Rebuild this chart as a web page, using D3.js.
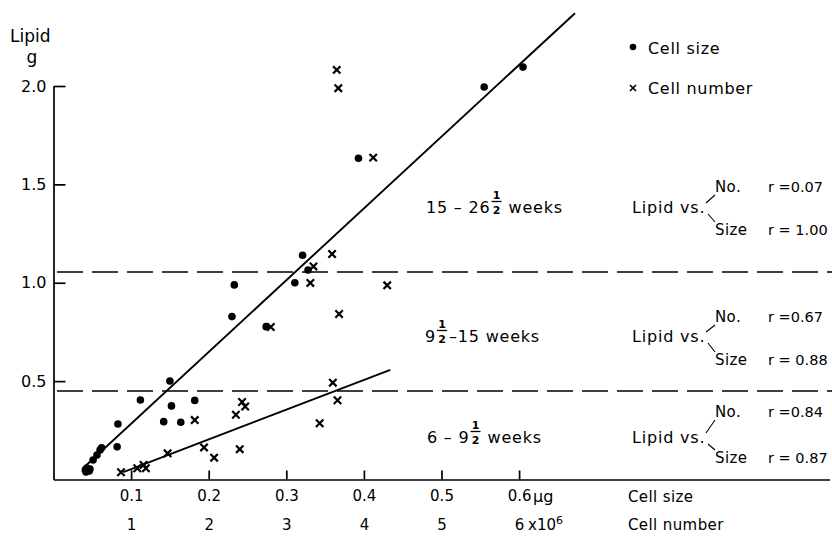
<!DOCTYPE html>
<html>
<head>
<meta charset="utf-8">
<script src="https://cdn.jsdelivr.net/npm/d3@7"></script>
<style>
  body { margin: 0; background: #fff; }
  svg { display: block; font-family: "DejaVu Sans", sans-serif; }
</style>
</head>
<body>
<script>
// lipid (g) against cell size (ug), drawn as dots
let sizeX = [0.041, 0.043, 0.046, 0.042, 0.047, 0.051, 0.056, 0.060, 0.062, 0.082,
             0.083, 0.112, 0.150, 0.152, 0.142, 0.164, 0.182, 0.230, 0.233, 0.274,
             0.311, 0.321, 0.328, 0.393, 0.555, 0.605];
let sizeLipid = [0.048, 0.058, 0.043, 0.038, 0.053, 0.099, 0.124, 0.150, 0.161, 0.166,
                 0.282, 0.404, 0.501, 0.374, 0.294, 0.291, 0.402, 0.828, 0.989, 0.777,
                 1.000, 1.140, 1.065, 1.633, 1.995, 2.096];

// lipid (g) against cell number (x10^6), drawn as crosses
let numberX = [0.87, 1.08, 1.16, 1.19, 1.47, 1.82, 1.94, 2.07, 2.40, 2.35, 2.43, 2.47,
               3.43, 3.60, 3.66, 2.80, 3.31, 3.35, 3.59, 3.68, 4.30, 4.12, 3.65, 3.67];
let numberLipid = [0.037, 0.057, 0.074, 0.057, 0.133, 0.302, 0.163, 0.111, 0.154, 0.329,
                   0.394, 0.371, 0.286, 0.492, 0.403, 0.775, 0.999, 1.083, 1.146, 0.841,
                   0.987, 1.636, 2.082, 1.989];

// fitted lines (end points)
let sizeFitX = [0.038, 0.672];
let sizeFitLipid = [0.057, 2.37];
let numberFitX = [0.90, 4.34];
let numberFitLipid = [0.038, 0.557];

// age group boundaries (lipid, g)
let boundaries = [1.055, 0.45];

// tick values
let sizeTicks = [0.1, 0.2, 0.3, 0.4, 0.5, 0.6];
let numberTicks = [1, 2, 3, 4, 5, 6];
let lipidTicks = [0.5, 1.0, 1.5, 2.0];

// age groups and correlations
let periodPre = ["15 \u2013 26", "9", "6 \u2013 9"];
let periodPost = ["weeks", "\u201315  weeks", "weeks"];
let rNumber = ["0.07", "0.67", "0.84"];
let rSize = ["1.00", "0.88", "0.87"];


window.onload = function() {
    let w = 832;
    let h = 538;

    let svg = d3.select("body")
                .append("svg")
                .attr("width", w)
                .attr("height", h);

    // scales: 0.1 ug of cell size sits where 1 x10^6 cells sits
    let x = d3.scaleLinear().domain([0, 1]).range([53.5, 829.5]);
    let xNum = d3.scaleLinear().domain([0, 10]).range([53.5, 829.5]);
    let y = d3.scaleLinear().domain([0, 2]).range([479.5, 86]);

    // y axis
    let yAxis = svg.append("g")
                   .attr("transform", "translate(53.5,0)")
                   .call(d3.axisLeft(y)
                           .tickValues(lipidTicks)
                           .tickFormat(d3.format(".1f"))
                           .tickSizeInner(-12)
                           .tickSizeOuter(0)
                           .tickPadding(7));
    yAxis.selectAll("text").attr("font-size", 16).attr("font-family", "DejaVu Sans");
    yAxis.selectAll("path, line").attr("stroke-width", 1.7);

    svg.append("text").attr("x", 10).attr("y", 42)
       .attr("font-size", 17).text("Lipid");
    svg.append("text").attr("x", 32).attr("y", 63).attr("text-anchor", "middle")
       .attr("font-size", 17).text("g");

    // x axis, cell size
    let xAxis = svg.append("g")
                   .attr("transform", "translate(0,479.5)")
                   .call(d3.axisBottom(x)
                           .tickValues(sizeTicks)
                           .tickFormat(d3.format(".1f"))
                           .tickSizeInner(-9)
                           .tickSizeOuter(0)
                           .tickPadding(11));
    xAxis.selectAll("text").attr("font-size", 15).attr("font-family", "DejaVu Sans");
    xAxis.selectAll("path, line").attr("stroke-width", 1.7);

    // second row, cell number
    let nAxis = svg.append("g")
                   .attr("transform", "translate(0,508)")
                   .call(d3.axisBottom(xNum)
                           .tickValues(numberTicks)
                           .tickFormat(d3.format("d"))
                           .tickSize(0)
                           .tickPadding(11));
    nAxis.select(".domain").remove();
    nAxis.selectAll("text").attr("font-size", 15).attr("font-family", "DejaVu Sans");

    svg.append("text").attr("x", x(0.6) + 14).attr("y", 502)
       .attr("font-size", 16).text("\u03bcg");
    let xt = svg.append("text").attr("x", xNum(6) + 9).attr("y", 530)
                .attr("font-size", 15);
    xt.append("tspan").text("x10");
    xt.append("tspan").attr("dy", -6).attr("font-size", 11).text("6");
    svg.append("text").attr("x", 628).attr("y", 502)
       .attr("font-size", 15).attr("letter-spacing", 0.4).text("Cell size");
    svg.append("text").attr("x", 628).attr("y", 530)
       .attr("font-size", 15).attr("letter-spacing", 0.4).text("Cell number");

    // dashed age-group boundaries
    svg.append("g")
       .selectAll("line")
       .data(boundaries)
       .enter()
       .append("line")
       .attr("x1", 57).attr("x2", 832)
       .attr("y1", d => y(d)).attr("y2", d => y(d))
       .attr("stroke", "#000")
       .attr("stroke-width", 1.5)
       .attr("stroke-dasharray", "26,9");

    // fitted lines
    let line = d3.line();
    svg.append("path")
       .attr("d", line(sizeFitX.map((d, i) => [x(d), y(sizeFitLipid[i])])))
       .attr("stroke", "#000").attr("stroke-width", 1.9).attr("fill", "none");
    svg.append("path")
       .attr("d", line(numberFitX.map((d, i) => [xNum(d), y(numberFitLipid[i])])))
       .attr("stroke", "#000").attr("stroke-width", 1.9).attr("fill", "none");

    // cell size points
    svg.append("g")
       .selectAll("circle")
       .data(sizeX)
       .enter()
       .append("circle")
       .attr("cx", d => x(d))
       .attr("cy", (d, i) => y(sizeLipid[i]))
       .attr("r", 3.8)
       .attr("fill", "#000");

    // cell number points
    let cross = "M-3.7,-3.7L3.7,3.7M-3.7,3.7L3.7,-3.7";
    svg.append("g")
       .selectAll("path")
       .data(numberX)
       .enter()
       .append("path")
       .attr("transform", (d, i) => "translate(" + xNum(d) + "," + y(numberLipid[i]) + ")")
       .attr("d", cross)
       .attr("stroke", "#000")
       .attr("stroke-width", 2.2);

    // legend
    svg.append("circle").attr("cx", 633).attr("cy", 47).attr("r", 3.3).attr("fill", "#000");
    svg.append("text").attr("x", 648).attr("y", 54).attr("font-size", 16)
       .attr("letter-spacing", 0.7).text("Cell size");
    svg.append("path").attr("transform", "translate(633,88)")
       .attr("d", "M-3,-3L3,3M-3,3L3,-3")
       .attr("stroke", "#000").attr("stroke-width", 1.7);
    svg.append("text").attr("x", 648).attr("y", 94).attr("font-size", 16)
       .attr("letter-spacing", 0.7).text("Cell number");

    // age-group annotations
    let baselines = [213, 342, 443];
    let noOffset = [-21, -20, -26];
    let sizeOffset = [22, 23, 20];
    let startX = [426, 425, 427];

    baselines.forEach(function(b, i) {
        let g = svg.append("g").attr("font-size", 16).attr("letter-spacing", 0.8);

        let pre = g.append("text").attr("x", startX[i]).attr("y", b).text(periodPre[i]);
        let fx = startX[i] + pre.node().getComputedTextLength() + 6;
        g.append("text").attr("x", fx).attr("y", b - 14).attr("font-size", 11)
         .attr("letter-spacing", 0)
         .attr("text-anchor", "middle").attr("font-weight", "bold").text("1");
        g.append("line").attr("x1", fx - 5).attr("x2", fx + 5)
         .attr("y1", b - 11.5).attr("y2", b - 11.5)
         .attr("stroke", "#000").attr("stroke-width", 1.3);
        g.append("text").attr("x", fx).attr("y", b + 0.5).attr("font-size", 11)
         .attr("letter-spacing", 0)
         .attr("text-anchor", "middle").attr("font-weight", "bold").text("2");
        g.append("text").attr("x", fx + (i === 1 ? 7 : 12)).attr("y", b).text(periodPost[i]);

        g.append("text").attr("x", 632).attr("y", b).text("Lipid  vs.");
        g.append("line").attr("x1", 706).attr("y1", b - 10)
         .attr("x2", 715).attr("y2", b + noOffset[i] + 3)
         .attr("stroke", "#000").attr("stroke-width", 1.1);
        g.append("line").attr("x1", 708).attr("y1", b + 1)
         .attr("x2", 715).attr("y2", b + sizeOffset[i] - 13)
         .attr("stroke", "#000").attr("stroke-width", 1.1);
        g.append("text").attr("x", 715).attr("y", b + noOffset[i]).attr("font-size", 15)
         .attr("letter-spacing", 0.4).text("No.");
        g.append("text").attr("x", 715).attr("y", b + sizeOffset[i]).attr("font-size", 15)
         .attr("letter-spacing", 0.4).text("Size");
        g.append("text").attr("x", 768).attr("y", b + noOffset[i]).attr("font-size", 14.5)
         .attr("letter-spacing", 0).text("r =" + rNumber[i]);
        g.append("text").attr("x", 768).attr("y", b + sizeOffset[i]).attr("font-size", 14.5)
         .attr("letter-spacing", 0).text("r = " + rSize[i]);
    });
};
</script>
</body>
</html>
